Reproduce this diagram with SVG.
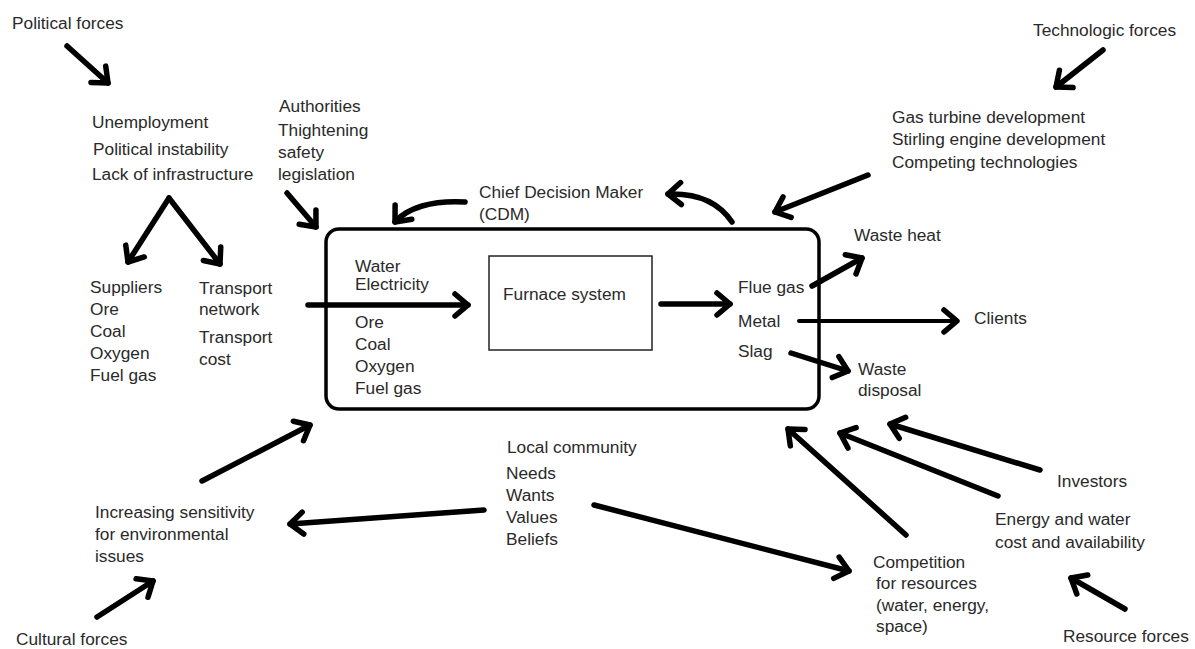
<svg xmlns="http://www.w3.org/2000/svg" width="1195" height="649" viewBox="0 0 1195 649">
<style>
text{font-family:"Liberation Sans",Arial,sans-serif;font-size:17.3px;fill:#2a2a2a}
.a{fill:none;stroke:#000;stroke-width:5.5;stroke-linecap:round;marker-end:url(#h)}
.t{stroke-width:4}
</style>
<defs>
<marker id="h" viewBox="-18 -16 22 32" refX="0" refY="0" markerWidth="22" markerHeight="32" markerUnits="userSpaceOnUse" orient="auto">
<path d="M-13,-11 L0,0 L-13,11" fill="none" stroke="#000" stroke-width="5.5" stroke-linecap="round" stroke-linejoin="round"/>
</marker>
</defs>
<rect width="1195" height="649" fill="#fff"/>
<g id="system">
<rect x="326" y="229" width="493" height="180" rx="13" fill="none" stroke="#000" stroke-width="3.5"/>
<text x="355" y="272">Water</text>
<text x="355" y="290">Electricity</text>
<text x="355" y="328">Ore</text>
<text x="355" y="350">Coal</text>
<text x="355" y="372">Oxygen</text>
<text x="355" y="394">Fuel gas</text>
<text x="738" y="293">Flue gas</text>
<text x="738" y="327">Metal</text>
<text x="738" y="357">Slag</text>
</g>
<g id="furnace">
<rect x="489" y="256" width="163" height="94" fill="none" stroke="#222" stroke-width="1.5"/>
<text x="503" y="300">Furnace system</text>
</g>
<g id="political"><text x="12" y="29">Political forces</text></g>
<g id="political-issues">
<text x="92" y="128">Unemployment</text>
<text x="93" y="155">Political instability</text>
<text x="92" y="180">Lack of infrastructure</text>
</g>
<g id="authorities">
<text x="279" y="112">Authorities</text>
<text x="278" y="136">Thightening</text>
<text x="278" y="158">safety</text>
<text x="278" y="180">legislation</text>
</g>
<g id="cdm">
<text x="479" y="198">Chief Decision Maker</text>
<text x="479" y="220">(CDM)</text>
</g>
<g id="technologic"><text x="1033" y="36">Technologic forces</text></g>
<g id="technologies">
<text x="892" y="123">Gas turbine development</text>
<text x="892" y="145">Stirling engine development</text>
<text x="892" y="168">Competing technologies</text>
</g>
<g id="suppliers">
<text x="90" y="293">Suppliers</text>
<text x="90" y="315">Ore</text>
<text x="90" y="337">Coal</text>
<text x="90" y="359">Oxygen</text>
<text x="90" y="381">Fuel gas</text>
</g>
<g id="transport">
<text x="199" y="294">Transport</text>
<text x="199" y="315">network</text>
<text x="199" y="343">Transport</text>
<text x="199" y="365">cost</text>
</g>
<g id="waste-heat"><text x="854" y="241">Waste heat</text></g>
<g id="clients"><text x="974" y="324">Clients</text></g>
<g id="waste-disposal">
<text x="858" y="375">Waste</text>
<text x="858" y="396">disposal</text>
</g>
<g id="local-community">
<text x="507" y="453">Local community</text>
<text x="506" y="479">Needs</text>
<text x="506" y="501">Wants</text>
<text x="506" y="523">Values</text>
<text x="506" y="545">Beliefs</text>
</g>
<g id="sensitivity">
<text x="95" y="518">Increasing sensitivity</text>
<text x="95" y="540">for environmental</text>
<text x="95" y="562">issues</text>
</g>
<g id="cultural"><text x="16" y="645">Cultural forces</text></g>
<g id="investors"><text x="1057" y="487">Investors</text></g>
<g id="energy">
<text x="995" y="525">Energy and water</text>
<text x="995" y="548">cost and availability</text>
</g>
<g id="competition">
<text x="873" y="568">Competition</text>
<text x="876" y="589">for resources</text>
<text x="876" y="611">(water, energy,</text>
<text x="876" y="632">space)</text>
</g>
<g id="resource"><text x="1063" y="642">Resource forces</text></g>
<g id="connectors">
<path class="a" d="M67,46 L108,83"/>
<path class="a" d="M169,198 L128,262"/>
<path class="a" d="M169,198 L220,264"/>
<path class="a" d="M287,193 L316,227"/>
<path class="a" d="M465,202 C432,200 407,208 395,222"/>
<path class="a" d="M732,222 C718,201 696,193 668,194"/>
<path class="a" d="M1103,50 L1056,87"/>
<path class="a" d="M868,175 L775,212"/>
<path class="a" d="M308,305 L468,305"/>
<path class="a" d="M661,304 L730,304"/>
<path class="a" d="M812,286 L862,258"/>
<path class="a t" d="M799,321 L957,321"/>
<path class="a" d="M791,353 L848,371"/>
<path class="a" d="M202,481 L310,425"/>
<path class="a" d="M97,617 L153,581"/>
<path class="a" d="M484,510 L290,524"/>
<path class="a" d="M594,505 L849,571"/>
<path class="a" d="M906,535 L788,429"/>
<path class="a" d="M998,496 L840,433"/>
<path class="a" d="M1040,470 L890,424"/>
<path class="a" d="M1125,609 L1071,578"/>
</g>
</svg>
